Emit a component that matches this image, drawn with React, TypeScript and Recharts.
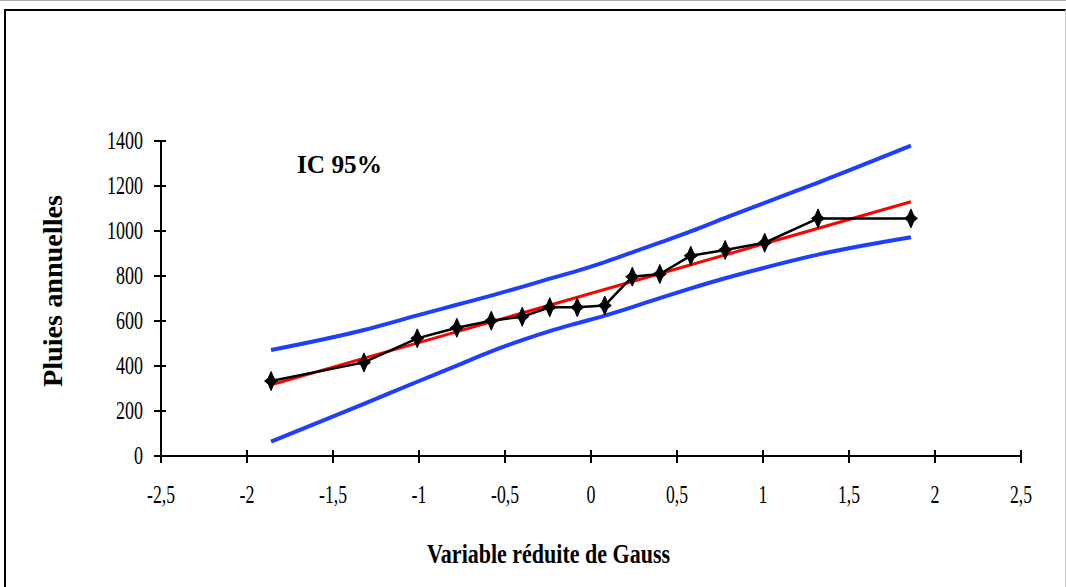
import {
    ComposedChart,
    Line,
    XAxis,
    YAxis,
} from "recharts";

// variable réduite de Gauss (abscisses des points)
const gaussX = [-1.86, -1.32, -1.01, -0.78, -0.58, -0.4, -0.24, -0.08, 0.08, 0.24, 0.4, 0.58, 0.78, 1.01, 1.32, 1.86];
// pluies annuelles observées
const pluies = [333, 416, 523, 570, 601, 619, 661, 661, 669, 797, 809, 890, 916, 948, 1056, 1056];
// bornes de l'intervalle de confiance à 95 %
const icSup = [471, 560, 625, 672, 713, 752, 788, 823, 862, 905, 948, 998, 1058, 1125, 1215, 1379];
const icInf = [64, 232, 330, 402, 465, 515, 555, 590, 624, 662, 702, 745, 790, 837, 895, 972];
// droite d'ajustement
const droiteX = [-1.86, 1.86];
const droiteY = [316, 1130];

const xTicks = [-2.5, -2, -1.5, -1, -0.5, 0, 0.5, 1, 1.5, 2, 2.5];
const yTicks = [0, 200, 400, 600, 800, 1000, 1200, 1400];

const observed = gaussX.map((x, i) => ({ x, y: pluies[i] }));
const upper = gaussX.map((x, i) => ({ x, y: icSup[i] }));
const lower = gaussX.map((x, i) => ({ x, y: icInf[i] }));
const fitted = droiteX.map((x, i) => ({ x, y: droiteY[i] }));

const FONT = "'Liberation Serif', 'Times New Roman', serif";

const fmt = (v: number) => String(v).replace(".", ",");
const textLen = (s: string) =>
    s.split("").reduce((acc, c) => acc + (c === "," ? 4 : c === "-" ? 6 : 9), 0);

const XTick = (props: any) => {
    const { x, y, payload } = props;
    const label = fmt(payload.value);
    return (
        <g>
            <line x1={x} x2={x} y1={y - 6} y2={y + 7} stroke="#000" strokeWidth={2} />
            <text
                x={x}
                y={y + 47}
                textAnchor="middle"
                fontFamily={FONT}
                fontSize={25}
                fill="#000"
                textLength={textLen(label)}
                lengthAdjust="spacingAndGlyphs"
            >
                {label}
            </text>
        </g>
    );
};

const YTick = (props: any) => {
    const { x, y, payload } = props;
    const label = fmt(payload.value);
    return (
        <g>
            <line x1={x - 7} x2={x + 5} y1={y} y2={y} stroke="#000" strokeWidth={2} />
            <text
                x={x - 18}
                y={y + 8}
                textAnchor="end"
                fontFamily={FONT}
                fontSize={25}
                fill="#000"
                textLength={textLen(label)}
                lengthAdjust="spacingAndGlyphs"
            >
                {label}
            </text>
        </g>
    );
};

const XTitle = () => (
    <text
        x={427}
        y={563}
        fontFamily={FONT}
        fontWeight="bold"
        fontSize={28}
        fill="#000"
        textLength={243}
        lengthAdjust="spacingAndGlyphs"
    >
        Variable réduite de Gauss
    </text>
);

const YTitle = () => (
    <g>
        <text
            x={62}
            y={291}
            transform="rotate(-90, 62, 291)"
            textAnchor="middle"
            fontFamily={FONT}
            fontWeight="bold"
            fontSize={28}
            fill="#000"
            textLength={192}
            lengthAdjust="spacingAndGlyphs"
        >
            Pluies annuelles
        </text>
        <text
            x={297}
            y={173}
            fontFamily={FONT}
            fontWeight="bold"
            fontSize={26}
            fill="#000"
            textLength={85}
            lengthAdjust="spacingAndGlyphs"
        >
            IC 95%
        </text>
    </g>
);

const Star = (props: any) => {
    const { cx, cy, index } = props;
    if (cx == null || cy == null) return <g key={index} />;
    return (
        <path
            key={index}
            transform={`translate(${cx},${cy})`}
            d="M0,-9.5 L2.8,-3 L6.5,0 L2.8,3 L0,9.5 L-2.8,3 L-6.5,0 L-2.8,-3 Z"
            fill="#000"
            stroke="#000"
            strokeWidth={1}
        />
    );
};

export default function App() {
    return (
        <div
            style={{
                position: "absolute",
                left: 0,
                top: 0,
                width: 1066,
                height: 587,
                overflow: "hidden",
                background: "#fff",
            }}
        >
            <div style={{ position: "absolute", left: 0, top: 0, width: 1066, height: 1, background: "#aaa" }} />
            <div
                style={{
                    position: "absolute",
                    left: 4,
                    top: 9,
                    width: 1062,
                    height: 620,
                    boxSizing: "border-box",
                    borderTop: "2px solid #000",
                    borderLeft: "2px solid #000",
                    borderRight: "1px solid #ccc",
                }}
            />
            <div style={{ position: "absolute", left: 0, top: 0 }}>
                <ComposedChart
                    width={1066}
                    height={587}
                    margin={{ top: 141, right: 45, bottom: 0, left: 0 }}
                >
                    <XAxis
                        type="number"
                        dataKey="x"
                        domain={[-2.5, 2.5]}
                        ticks={xTicks}
                        interval={0}
                        height={131}
                        stroke="#000"
                        strokeWidth={2}
                        tickSize={0}
                        tickMargin={0}
                        tickLine={false}
                        tick={<XTick />}
                        allowDuplicatedCategory={false}
                        label={<XTitle />}
                    />
                    <YAxis
                        type="number"
                        dataKey="y"
                        domain={[0, 1400]}
                        ticks={yTicks}
                        interval={0}
                        width={161}
                        stroke="#000"
                        strokeWidth={2}
                        tickSize={0}
                        tickMargin={0}
                        tickLine={false}
                        tick={<YTick />}
                        label={<YTitle />}
                    />
                    <Line
                        data={upper}
                        dataKey="y"
                        type="monotone"
                        stroke="#1f3fff"
                        strokeWidth={4}
                        dot={false}
                        activeDot={false}
                        isAnimationActive={false}
                    />
                    <Line
                        data={lower}
                        dataKey="y"
                        type="monotone"
                        stroke="#1f3fff"
                        strokeWidth={4}
                        dot={false}
                        activeDot={false}
                        isAnimationActive={false}
                    />
                    <Line
                        data={fitted}
                        dataKey="y"
                        type="linear"
                        stroke="#ff0000"
                        strokeWidth={3}
                        dot={false}
                        activeDot={false}
                        isAnimationActive={false}
                    />
                    <Line
                        data={observed}
                        dataKey="y"
                        type="linear"
                        stroke="#000"
                        strokeWidth={2.5}
                        dot={<Star />}
                        activeDot={false}
                        isAnimationActive={false}
                    />
                </ComposedChart>
            </div>
        </div>
    );
}
